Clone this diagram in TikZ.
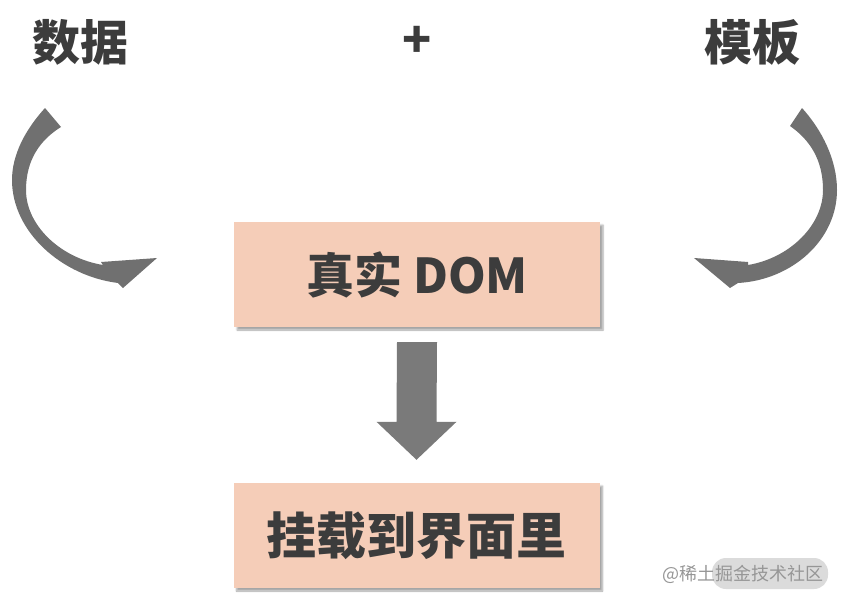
\documentclass[tikz,border=0pt]{standalone}
\usepackage{fontspec}
\newfontfamily\cjk{Noto Sans CJK SC}
\definecolor{dmpeach}{RGB}{245,205,184}
\definecolor{dmtext}{RGB}{60,60,60}
\definecolor{dmarrow}{RGB}{112,112,112}
\definecolor{dmdown}{RGB}{122,122,122}
\definecolor{dmmark}{RGB}{150,150,150}
\usetikzlibrary{positioning,calc,shadows.blur}

\begin{document}
\begin{tikzpicture}[x=1pt, y=-1pt,
    title/.style={font=\cjk\bfseries\fontsize{48}{48}\selectfont, text=dmtext, inner sep=0pt},
    stage/.style={fill=dmpeach, minimum width=366pt, minimum height=105pt, inner sep=0pt,
      font=\cjk\bfseries\fontsize{48}{48}\selectfont, text=dmtext,
      blur shadow={shadow xshift=3pt, shadow yshift=-3pt, shadow blur steps=6, shadow opacity=35}}]
  \useasboundingbox (0,0) rectangle (841,602);
  % Inputs
  \node[title] (data) at (80,42) {数据};
  \node[title] (plus) at (417,42) {+};
  \node[title] (tmpl) at (752,42) {模板};
  % Boxes
  \node[stage] (real) at (417,274.5) {真实 DOM};
  \node[stage, font=\cjk\bfseries\fontsize{50}{50}\selectfont] (mount) at (416.5,535.5) {挂载到界面里};
  % Curved arrows
  \fill[dmarrow] (45,108) .. controls (25,130) and (12,155) .. (12,180)
    .. controls (12,232) and (62,276) .. (118,283) -- (123,288) -- (157,258) -- (101,262) -- (103,265)
    .. controls (60,258) and (26,225) .. (26,190) .. controls (26,160) and (40,140) .. (61,127) -- cycle;
  \fill[dmarrow] (802,108) .. controls (822,130) and (837,160) .. (837,190)
    .. controls (837,240) and (792,280) .. (738,283) -- (730,288) -- (694,258) -- (748,262) -- (748,265)
    .. controls (790,258) and (823,225) .. (823,190) .. controls (823,160) and (810,140) .. (790,126) -- cycle;
  % Down arrow
  \fill[dmdown] ($(real.south)+(-20,15)$) -- ($(real.south)+(20,15)$) -- ($(mount.north)+(20,-61)$)
    -- ($(mount.north)+(40,-61)$) -- ($(mount.north)+(0,-23)$) -- ($(mount.north)+(-40,-61)$)
    -- ($(mount.north)+(-20,-61)$) -- cycle;
  % Watermark
  \fill[black!14, rounded corners=14pt] (712,558) rectangle (828,589);
  \node[font=\cjk\fontsize{18}{18}\selectfont, text=dmmark, inner sep=0pt] (mark) at (743,574) {@稀土掘金技术社区};
\end{tikzpicture}
\end{document}
